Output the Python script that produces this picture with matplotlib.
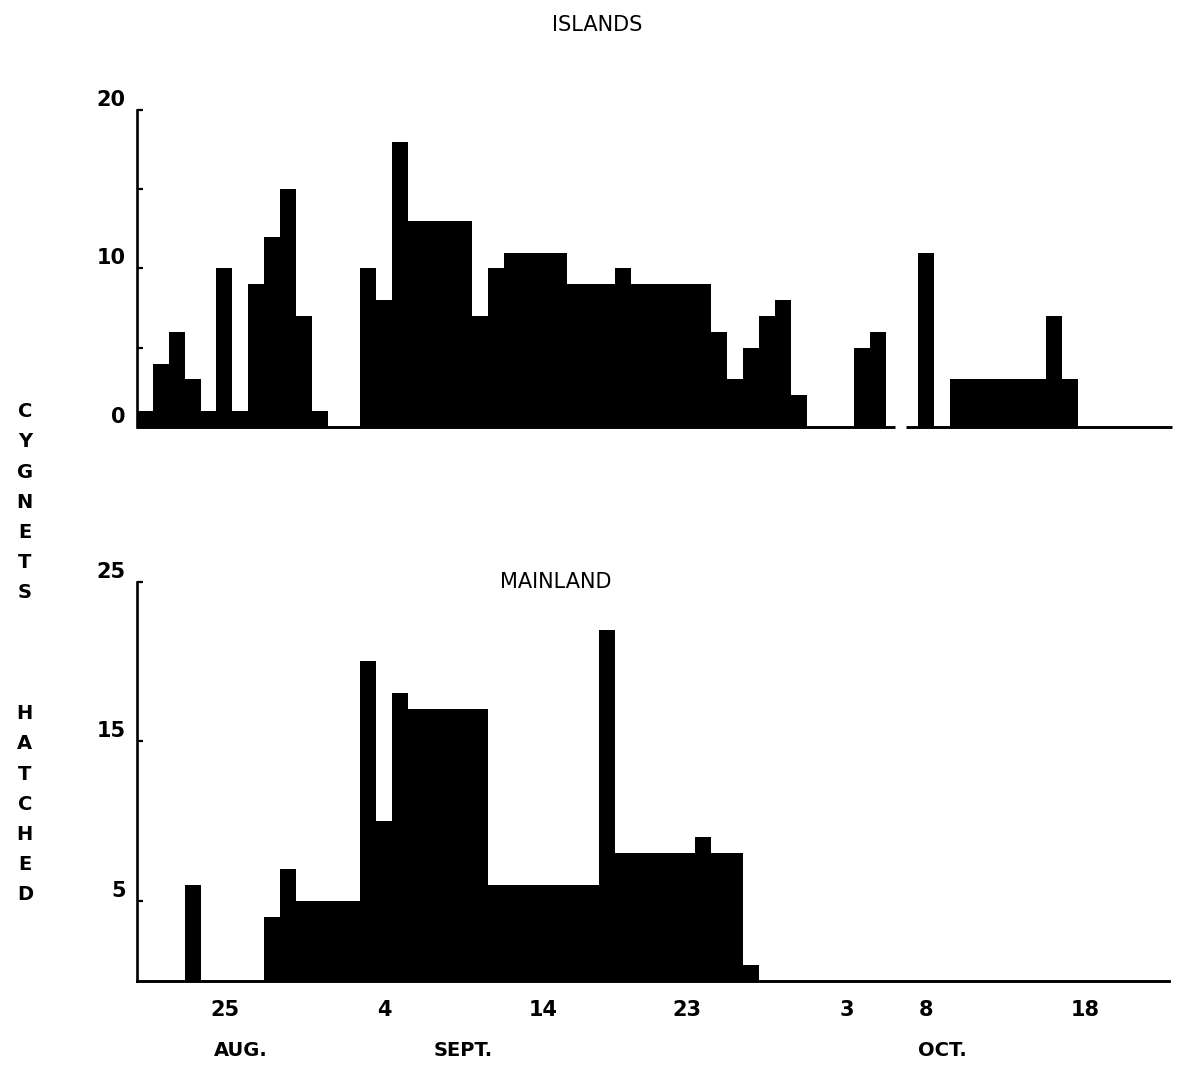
import numpy as np
import matplotlib
matplotlib.use("Agg")
from matplotlib import pyplot as plt
from matplotlib import transforms

# day numbers counted from Aug 1 (= 1); first bar is Aug 20
start_day = 20

islands = [1, 4, 6, 3, 1, 10, 1, 9, 12, 15, 7, 1, 0, 0, 10, 8, 18, 13, 13, 13,
           13, 7, 10, 11, 11, 11, 11, 9, 9, 9, 10, 9, 9, 9, 9, 9, 6, 3, 5, 7,
           8, 2, 0, 0, 0, 5, 6, 0, 0, 11, 0, 3, 3, 3, 3, 3, 3, 7, 3]

mainland = [0, 0, 0, 6, 0, 0, 0, 0, 4, 7, 5, 5, 5, 5, 20, 10, 18, 17, 17, 17,
            17, 17, 6, 6, 6, 6, 6, 6, 6, 22, 8, 8, 8, 8, 8, 9, 8, 8, 1]

tick_days = [25, 35, 45, 54, 64, 69, 79]
tick_labels = ['25', '4', '14', '23', '3', '8', '18']
month_days = [26, 40, 70]
month_labels = ['AUG.', 'SEPT.', 'OCT.']

island_yticks = [0, 5, 10, 15, 20]
island_ylabels = ['0', '', '10', '', '20']
main_yticks = [5, 15, 25]
main_ylabels = ['5', '15', '25']

ylabel_text = 'CYGNETS   HATCHED'

plt.rcParams['font.family'] = ['DejaVu Sans']

fig = plt.figure(figsize=(11.82, 10.72), dpi=100)
ax1 = fig.add_axes([0.1157, 0.6017, 0.8756, 0.2957])
ax2 = fig.add_axes([0.1157, 0.0852, 0.8756, 0.3722])

xlim = (start_day - 0.5, 84.4)


def style_axes(ax, ymax, yticks, ylabels):
    for side in ['top', 'right']:
        ax.spines[side].set_visible(False)
    ax.spines['left'].set_linewidth(1.9)
    ax.spines['bottom'].set_linewidth(2.1)
    ax.set_xlim(*xlim)
    ax.set_ylim(0, ymax)
    ax.set_yticks(yticks, ylabels)
    ax.tick_params(axis='y', direction='in', length=4, width=1.6, pad=8,
                   labelsize=15)
    for lab in ax.get_yticklabels():
        lab.set_fontweight('bold')
        lab.set_va('bottom')


# islands panel
edges1 = np.arange(start_day - 0.5, start_day + len(islands))
ax1.stairs(islands, edges1, fill=True, color='black', linewidth=0)
style_axes(ax1, 20, island_yticks, island_ylabels)
ax1.set_xticks([])
# the drawn base line has a small break early in October
ax1.spines['bottom'].set_visible(False)
ax1.hlines([0, 0], [xlim[0], 67.75], [67.05, xlim[1]], color='black', lw=2.1,
           clip_on=False)
fig.text(0.505, 0.977, 'ISLANDS', ha='center', va='center', fontsize=15)

# mainland panel
edges2 = np.arange(start_day - 0.5, start_day + len(mainland))
ax2.stairs(mainland, edges2, fill=True, color='black', linewidth=0)
style_axes(ax2, 25, main_yticks, main_ylabels)
ax2.spines['bottom'].set_bounds(xlim[0], 84.2)
ax2.set_xticks(tick_days, tick_labels)
ax2.tick_params(axis='x', length=0, pad=14, labelsize=15)
for lab in ax2.get_xticklabels():
    lab.set_fontweight('bold')
ax2.text(0.405, 1.0, 'MAINLAND', transform=ax2.transAxes, ha='center',
         va='center', fontsize=15)

trans = transforms.blended_transform_factory(ax2.transData, ax2.transAxes)
for d, m in zip(month_days, month_labels):
    ax2.text(d, -0.174, m, transform=trans, ha='center', va='center',
             fontsize=14, fontweight='bold')

# vertical stacked y label
y0 = 0.6160
step = 0.02817
for i, ch in enumerate(ylabel_text):
    if ch != ' ':
        fig.text(0.021, y0 - i * step, ch, ha='center', va='center',
                 fontsize=14, fontweight='bold')

fig.savefig('out.png', dpi=100)
